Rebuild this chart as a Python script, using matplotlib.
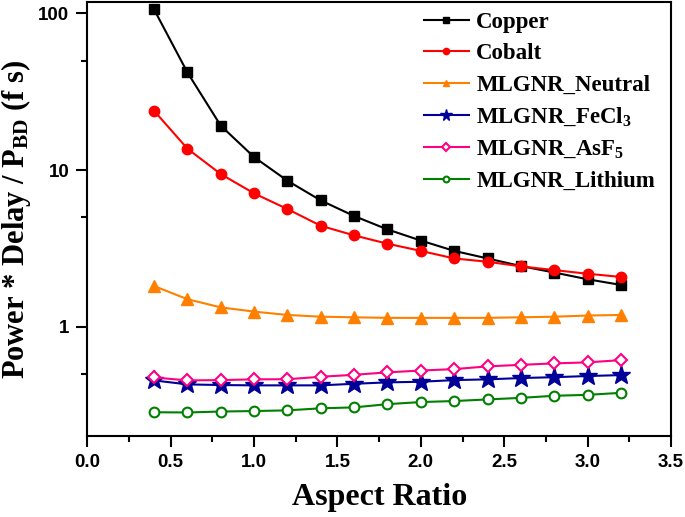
import matplotlib
matplotlib.use("Agg")
import matplotlib.pyplot as plt
from matplotlib.ticker import FixedLocator, FixedFormatter, MultipleLocator, NullFormatter

plt.rcParams['mathtext.fontset'] = 'custom'
plt.rcParams['mathtext.rm'] = 'Liberation Serif:bold'
plt.rcParams['mathtext.it'] = 'Liberation Serif:bold'
plt.rcParams['mathtext.bf'] = 'Liberation Serif:bold'
plt.rcParams['mathtext.default'] = 'rm'

### données
aspect = [0.4, 0.6, 0.8, 1.0, 1.2, 1.4, 1.6, 1.8, 2.0, 2.2, 2.4, 2.6, 2.8, 3.0, 3.2]

copper  = [106, 42, 19.2, 12.1, 8.55, 6.4, 5.09, 4.18, 3.55, 3.05, 2.73, 2.44, 2.22, 2.01, 1.85]
cobalt  = [23.9, 13.7, 9.43, 7.1, 5.64, 4.41, 3.83, 3.39, 3.05, 2.73, 2.60, 2.43, 2.30, 2.18, 2.08]
neutral = [1.82, 1.50, 1.33, 1.25, 1.19, 1.16, 1.15, 1.14, 1.14, 1.14, 1.14, 1.15, 1.16, 1.18, 1.19]
fecl3   = [0.455, 0.429, 0.425, 0.423, 0.423, 0.423, 0.433, 0.442, 0.446, 0.457, 0.462, 0.471, 0.477, 0.485, 0.492]
asf5    = [0.475, 0.455, 0.457, 0.462, 0.463, 0.480, 0.494, 0.512, 0.526, 0.537, 0.559, 0.572, 0.584, 0.593, 0.613]
lithium = [0.285, 0.284, 0.288, 0.290, 0.293, 0.302, 0.306, 0.321, 0.331, 0.336, 0.344, 0.352, 0.363, 0.368, 0.379]

fig = plt.figure(figsize=(6.85, 5.17), dpi=100)
ax = fig.add_axes([0.1275, 0.156, 0.852, 0.840])

lw = 1.5
ax.plot(aspect, copper, color='black', marker='s', ms=7, lw=lw, label='Copper')
ax.plot(aspect, cobalt, color='red', marker='o', ms=7.5, lw=lw, label='Cobalt')
ax.plot(aspect, neutral, color='#FF8000', marker='^', ms=8, lw=lw, label='MLGNR_Neutral')
ax.plot(aspect, fecl3, color='#000099', marker='*', ms=14, lw=lw, label='MLGNR_FeCl$_3$')
ax.plot(aspect, asf5, color='#FF0080', marker='D', ms=6.5, mfc='white', mew=1.5, lw=lw, label='MLGNR_AsF$_5$')
ax.plot(aspect, lithium, color='#008000', marker='o', ms=7, mfc='white', mew=1.5, lw=lw, label='MLGNR_Lithium')

ax.set_yscale('log')
ax.set_xlim(0, 3.5)
ax.set_ylim(0.2, 118)

ax.xaxis.set_major_locator(MultipleLocator(0.5))
ax.xaxis.set_minor_locator(MultipleLocator(0.25))
ax.yaxis.set_major_locator(FixedLocator([1, 10, 100]))
ax.yaxis.set_major_formatter(FixedFormatter(['1', '10', '100']))
ax.yaxis.set_minor_locator(FixedLocator([0.5, 5, 50]))
ax.yaxis.set_minor_formatter(NullFormatter())

ax.tick_params(which='major', direction='out', length=8, width=1.5, pad=5)
ax.tick_params(which='minor', direction='out', length=4.5, width=1.5)
for lab in ax.get_xticklabels() + ax.get_yticklabels():
    lab.set_fontfamily('Liberation Sans')
    lab.set_fontweight('bold')
    lab.set_fontsize(13.5)
for sp in ax.spines.values():
    sp.set_linewidth(1.5)

ax.set_xlabel('Aspect Ratio', fontfamily='Liberation Serif', fontweight='bold', fontsize=23, labelpad=8)
ax.set_ylabel('Power * Delay / P$_{BD}$ (f s)', fontfamily='Liberation Serif', fontweight='bold',
              fontsize=22, labelpad=4)

leg = ax.legend(loc='upper right', bbox_to_anchor=(1.008, 1.025), frameon=False, markerscale=0.6,
                handlelength=2.0, handletextpad=0.3, labelspacing=0.45,
                prop={'family': 'Liberation Serif', 'weight': 'bold', 'size': 16.5})

fig.savefig('out.png', dpi=100)
